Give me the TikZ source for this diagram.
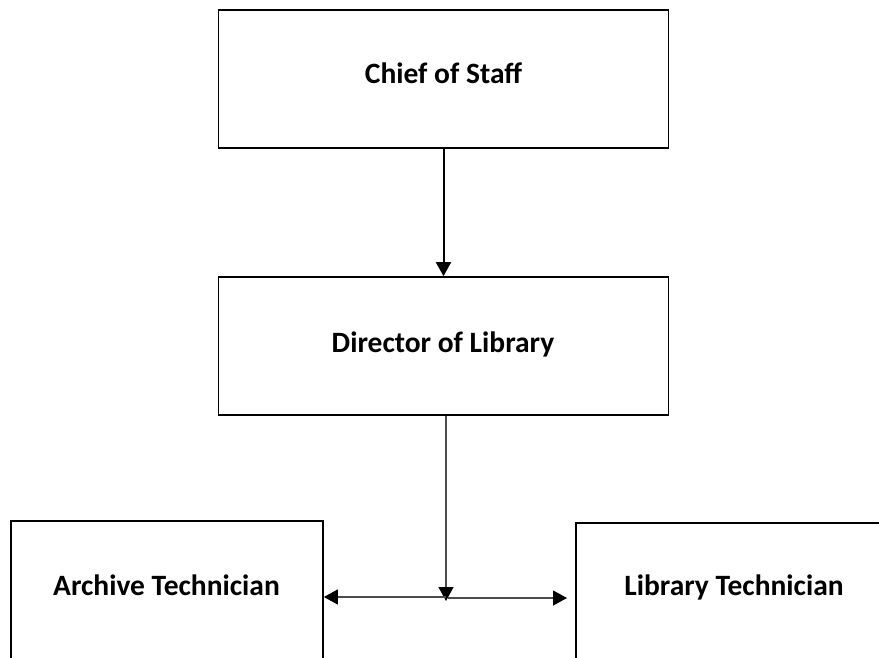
\documentclass[tikz,border=0pt]{standalone}
\usepackage{fontspec}
\setmainfont{Carlito}
\usetikzlibrary{arrows.meta}
\begin{document}
\begin{tikzpicture}[x=1pt,y=-1pt,
  box/.style={draw=black,line width=1.7pt,minimum width=#1,inner sep=0pt},
  box/.default=450pt,
  lbl/.style={anchor=base,inner sep=0pt,font=\bfseries\fontsize{29.5}{34}\selectfont},
  main/.style={line width=2pt,-{Triangle[length=14pt,width=15pt]}},
  sub/.style={line width=1.3pt,draw=black!70,-{Triangle[length=14pt,width=15pt,fill=black,color=black]}}]
\useasboundingbox (0,0) rectangle (879,657);
\clip (0,0) rectangle (879,657);
\node[box=450pt,minimum height=138pt] (chief) at (443.5,79) {};
\node[lbl] (tchief) at (443.5,83) {Chief of Staff};
\node[box=450pt,minimum height=138pt] (dir) at (443.5,346) {};
\node[lbl] (tdir) at (443,352) {Director of Library};
\node[box=312pt,minimum height=200pt] (arch) at (167,621) {};
\node[lbl] (tarch) at (166.5,595) {Archive Technician};
\node[box=320pt,minimum height=200pt] (lib) at (736,623) {};
\node[lbl] (tlib) at (734,595) {Library Technician};
\coordinate (j) at (446,597);
\coordinate (jr) at (448,598);
\coordinate (rt) at (567,598);
\draw[main] (chief.south) -- (dir.north);
\draw[sub] (dir.south -| j) -- ([yshift=-4pt]j);
\draw[sub] (j) -- (j -| arch.east);
\draw[sub] (jr) -- (rt);
\end{tikzpicture}
\end{document}
